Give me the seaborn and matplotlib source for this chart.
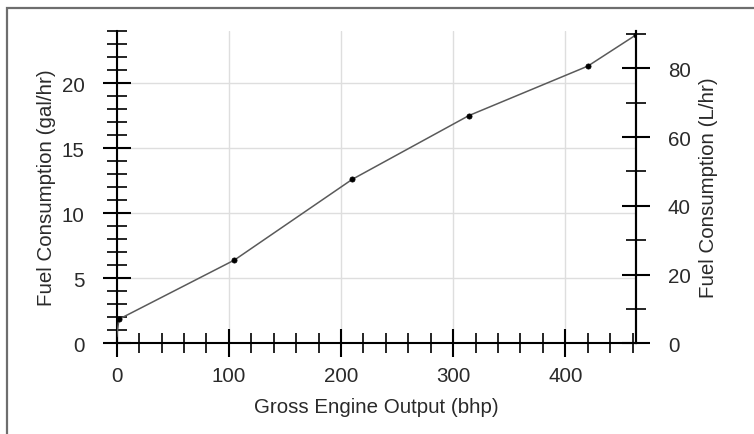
import matplotlib
matplotlib.use("Agg")
import matplotlib.pyplot as plt
import matplotlib.patches as mpatches
from matplotlib.ticker import MultipleLocator
import seaborn as sns
import pandas as pd

# ---- data ----
bhp = [0, 2, 105, 210, 314, 420, 463]
gal_hr = [0.5, 1.85, 6.4, 12.6, 17.5, 21.3, 23.7]
marked = [False, True, True, True, True, True, True]
x_label = "Gross Engine Output (bhp)"
y_label = "Fuel Consumption (gal/hr)"
y2_label = "Fuel Consumption (L/hr)"
x_max = 463
y_max = 24
L_PER_GAL = 3.78541

df = pd.DataFrame({"bhp": bhp, "gal": gal_hr, "marked": marked})

sns.set_style("white")
plt.rcParams["font.family"] = ["Liberation Sans", "DejaVu Sans"]
plt.rcParams["xtick.bottom"] = True
plt.rcParams["ytick.left"] = True
FS = 14.8
TXT = "#2a2a2a"

fig = plt.figure(figsize=(7.54, 4.35), dpi=100)
ax = fig.add_axes([116.7 / 754, 1 - 344.3 / 435, (636 - 116.7) / 754, (344.3 - 32) / 435])

sns.lineplot(data=df, x="bhp", y="gal", ax=ax, color="#5a5a5a", linewidth=1.1, zorder=3)
sns.scatterplot(data=df[df["marked"]], x="bhp", y="gal", ax=ax, color="black",
                s=14, edgecolor="black", linewidth=0.5, zorder=4)

ax.set_xlim(0, x_max)
ax.set_ylim(0, y_max)
ax.xaxis.set_major_locator(MultipleLocator(100))
ax.xaxis.set_minor_locator(MultipleLocator(20))
ax.yaxis.set_major_locator(MultipleLocator(5))
ax.yaxis.set_minor_locator(MultipleLocator(1))
ax.grid(True, which="major", color="#dedede", linewidth=1.0, zorder=0)
ax.set_axisbelow(True)

ax.spines["top"].set_visible(False)
for side in ["left", "bottom", "right"]:
    ax.spines[side].set_color("black")
    ax.spines[side].set_linewidth(1.5)

ax.tick_params(axis="both", which="both", bottom=True, left=True, top=False, right=False)
ax.tick_params(axis="both", which="major", direction="inout", length=20, width=1.5,
               color="black", labelsize=FS, labelcolor=TXT)
ax.tick_params(axis="y", which="major", pad=13)
ax.tick_params(axis="x", which="major", pad=6)
ax.tick_params(axis="both", which="minor", direction="inout", length=14.5, width=1.2, color="black")

ax.set_xlabel(x_label, fontsize=FS, color=TXT, labelpad=9)
ax.set_ylabel(y_label, fontsize=FS, color=TXT, labelpad=4)

ax2 = ax.twinx()
ax2.set_ylim(0, y_max * L_PER_GAL)
ax2.yaxis.set_major_locator(MultipleLocator(20))
ax2.yaxis.set_minor_locator(MultipleLocator(10))
for side in ["top", "left", "bottom"]:
    ax2.spines[side].set_visible(False)
ax2.spines["right"].set_color("black")
ax2.spines["right"].set_linewidth(1.5)
ax2.tick_params(axis="y", which="both", right=True, left=False)
ax2.tick_params(axis="y", which="major", direction="inout", length=20, width=1.5,
                color="black", labelsize=FS, labelcolor=TXT, pad=13)
ax2.tick_params(axis="y", which="minor", direction="inout", length=14.5, width=1.2, color="black")
ax2.set_ylabel(y2_label, fontsize=FS, color=TXT, labelpad=6)

# outer frame (only left and top edges visible in the reference)
fig.add_artist(mpatches.Rectangle((6.5 / 754, -0.2), 1.5, 1 - 8.5 / 435 + 0.2,
                                  transform=fig.transFigure, fill=False,
                                  edgecolor="#6e6e6e", linewidth=1.6, clip_on=False))

fig.savefig("out.png", dpi=100)
